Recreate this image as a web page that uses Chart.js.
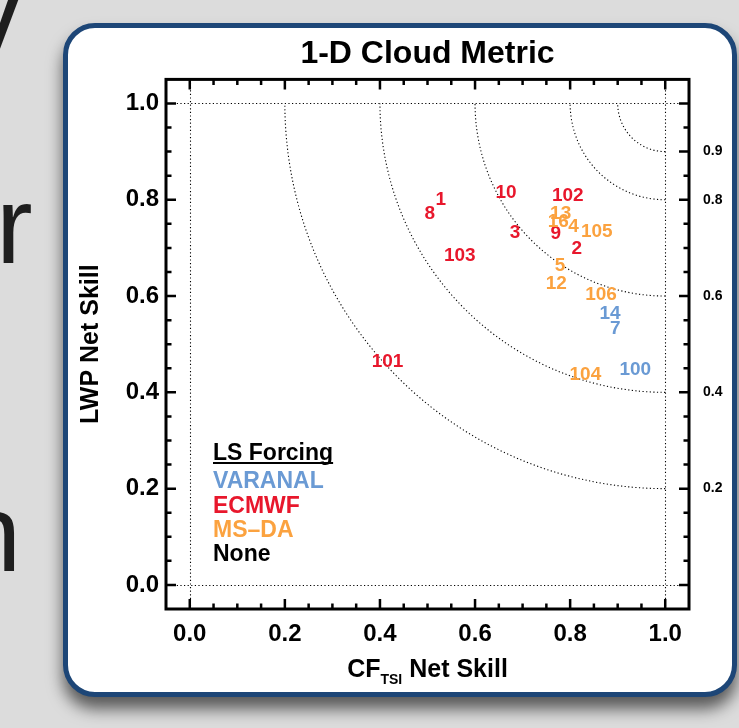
<!DOCTYPE html>
<html>
<head>
<meta charset="utf-8">
<script src="https://cdn.jsdelivr.net/npm/chart.js@4.4.1/dist/chart.umd.min.js"></script>
<style>
  html, body { margin: 0; padding: 0; }
  body {
    width: 739px; height: 728px; overflow: hidden; position: relative;
    background: #dcdcdc; font-family: "Liberation Sans", Arial, sans-serif;
  }
  .slide { position: absolute; font-size: 110px; line-height: 1; color: #1e1e1e; }
  #frame {
    position: absolute; left: 63px; top: 23px; width: 674px; height: 674px;
    box-sizing: border-box; border: 5px solid #1d4677; border-radius: 32px;
    background: #fff; box-shadow: 0 12px 16px rgba(0, 0, 0, 0.6);
  }
  #chart { position: absolute; left: 0; top: 0; }
</style>
</head>
<body>
<div class="slide" style="left:-36px; top:-36px;">v</div>
<div class="slide" style="left:-4px; top:170px;">r</div>
<div class="slide" style="left:-40px; top:478px;">n</div>
<div id="frame"></div>
<canvas id="chart" width="739" height="728"></canvas>
<script>
const FONT = "'Liberation Sans', Arial, sans-serif";

// model runs, grouped by large-scale forcing
const varanalLabels = ["14", "7", "100"];
const varanalX = [0.884, 0.895, 0.937];
const varanalY = [0.563, 0.532, 0.446];

const ecmwfLabels = ["1", "8", "10", "102", "3", "9", "2", "103", "101"];
const ecmwfX = [0.528, 0.505, 0.665, 0.795, 0.684, 0.770, 0.814, 0.568, 0.416];
const ecmwfY = [0.801, 0.770, 0.815, 0.808, 0.731, 0.729, 0.698, 0.684, 0.463];

const msdaLabels = ["13", "16", "4", "105", "5", "12", "106", "104"];
const msdaX = [0.780, 0.775, 0.807, 0.856, 0.779, 0.771, 0.865, 0.832];
const msdaY = [0.770, 0.755, 0.743, 0.734, 0.663, 0.625, 0.603, 0.437];

// net skill contours around the perfect score (1,1)
const contourRadii = [0.1, 0.2, 0.4, 0.6, 0.8];
const refLines = [0, 1];

const xTickValues = [0, 0.2, 0.4, 0.6, 0.8, 1.0];
const yTickValues = [0, 0.2, 0.4, 0.6, 0.8, 1.0];
const rightTickValues = [0.9, 0.8, 0.6, 0.4, 0.2];
const rightMajor = [0, 0.2, 0.4, 0.6, 0.8, 0.9, 1.0];
const minorStep = 0.05;

const legendTitle = "LS Forcing";
const legendItems = ["VARANAL", "ECMWF", "MS\u2013DA", "None"];
const legendColors = ["#6a9ad4", "#e8172c", "#fba23f", "#000000"];

const toPoints = (xs, ys, labels) => xs.map((x, i) => ({ x: x, y: ys[i], label: labels[i] }));

const isIn = (list, v) => list.some((t) => Math.abs(t - v) < 1e-6);

const cloudPlugin = {
  id: "cloudPlugin",
  beforeDatasetsDraw(chart) {
    const { ctx, chartArea: a, scales: { x, y } } = chart;
    ctx.save();
    ctx.strokeStyle = "#000";
    ctx.lineWidth = 1.1;
    ctx.setLineDash([1.2, 2.4]);
    refLines.forEach((v) => {
      const px = Math.round(x.getPixelForValue(v)) + 0.5;
      ctx.beginPath(); ctx.moveTo(px, a.top); ctx.lineTo(px, a.bottom); ctx.stroke();
      const py = Math.round(y.getPixelForValue(v)) + 0.5;
      ctx.beginPath(); ctx.moveTo(a.left, py); ctx.lineTo(a.right, py); ctx.stroke();
    });
    // contour arcs
    const cx = x.getPixelForValue(1), cy = y.getPixelForValue(1);
    const sx = x.getPixelForValue(1) - x.getPixelForValue(0);
    const sy = y.getPixelForValue(0) - y.getPixelForValue(1);
    contourRadii.forEach((r) => {
      ctx.beginPath();
      ctx.ellipse(cx, cy, r * sx, r * sy, 0, Math.PI / 2, Math.PI);
      ctx.stroke();
    });
    ctx.restore();
  },
  afterDatasetsDraw(chart) {
    const { ctx, chartArea: a } = chart;
    ctx.save();
    // run numbers as markers
    ctx.font = "bold 19px " + FONT;
    ctx.textAlign = "center";
    ctx.textBaseline = "middle";
    chart.data.datasets.forEach((ds, i) => {
      const meta = chart.getDatasetMeta(i);
      ctx.fillStyle = ds.labelColor;
      meta.data.forEach((pt, j) => ctx.fillText(ds.data[j].label, pt.x, pt.y));
    });
    // legend
    const lx = a.left + 47;
    const by = a.bottom - 149;
    ctx.textAlign = "left";
    ctx.textBaseline = "alphabetic";
    ctx.font = "bold 23px " + FONT;
    ctx.fillStyle = "#000";
    ctx.fillText(legendTitle, lx, by);
    ctx.fillRect(lx, by + 2, ctx.measureText(legendTitle).width, 2);
    const offs = [28, 53, 77, 101];
    legendItems.forEach((t, i) => {
      ctx.fillStyle = legendColors[i];
      ctx.fillText(t, lx, by + offs[i]);
    });
    ctx.restore();
  },
  afterDraw(chart) {
    const { ctx, chartArea: a, scales: { x, y } } = chart;
    ctx.save();
    ctx.strokeStyle = "#000";
    ctx.lineWidth = 2.5;
    for (let k = 0; k * minorStep <= 1.0001; k++) {
      const v = k * minorStep;
      const major = Math.abs(v * 5 - Math.round(v * 5)) < 1e-6;
      const len = major ? 10 : 5.5;
      const px = x.getPixelForValue(v);
      const py = y.getPixelForValue(v);
      ctx.beginPath();
      ctx.moveTo(px, a.bottom); ctx.lineTo(px, a.bottom - len);
      ctx.moveTo(px, a.top); ctx.lineTo(px, a.top + len);
      ctx.moveTo(a.left, py); ctx.lineTo(a.left + len, py);
      const rlen = isIn(rightMajor, v) ? 10 : 5.5;
      ctx.moveTo(a.right, py); ctx.lineTo(a.right - rlen, py);
      ctx.stroke();
    }
    ctx.lineWidth = 3;
    ctx.strokeRect(a.left, a.top, a.right - a.left, a.bottom - a.top);

    // x axis title with subscript
    const cxm = (a.left + a.right) / 2;
    const base = a.bottom + 68;
    ctx.fillStyle = "#000";
    ctx.textBaseline = "alphabetic";
    ctx.textAlign = "left";
    ctx.font = "bold 25px " + FONT;
    const w1 = ctx.measureText("CF").width;
    const w3 = ctx.measureText(" Net Skill").width;
    ctx.font = "bold 14px " + FONT;
    const w2 = ctx.measureText("TSI").width;
    const start = cxm - (w1 + w2 + w3) / 2;
    ctx.fillText("TSI", start + w1, base + 7);
    ctx.font = "bold 25px " + FONT;
    ctx.fillText("CF", start, base);
    ctx.fillText(" Net Skill", start + w1 + w2, base);
    ctx.restore();
  },
};

const tickFont = { family: FONT, size: 24, weight: "bold" };

new Chart(document.getElementById("chart"), {
  type: "scatter",
  data: {
    datasets: [
      { label: "VARANAL", data: toPoints(varanalX, varanalY, varanalLabels), labelColor: legendColors[0], pointRadius: 0 },
      { label: "ECMWF", data: toPoints(ecmwfX, ecmwfY, ecmwfLabels), labelColor: legendColors[1], pointRadius: 0 },
      { label: "MS-DA", data: toPoints(msdaX, msdaY, msdaLabels), labelColor: legendColors[2], pointRadius: 0 },
    ],
  },
  options: {
    responsive: false,
    animation: false,
    events: [],
    layout: { padding: { left: 60, top: 35, right: 0, bottom: 0 } },
    plugins: {
      legend: { display: false },
      tooltip: { enabled: false },
      title: {
        display: true,
        text: "1-D Cloud Metric",
        fullSize: false,
        color: "#000",
        font: { family: FONT, size: 32, weight: "bold" },
        padding: { top: 0, bottom: 6 },
      },
    },
    scales: {
      x: {
        type: "linear",
        position: "bottom",
        min: -0.05,
        max: 1.05,
        afterBuildTicks: (s) => { s.ticks = xTickValues.map((v) => ({ value: v })); },
        afterFit: (s) => { s.height = 119; },
        grid: { display: false, drawTicks: false },
        border: { display: false },
        ticks: { padding: 11, color: "#000", font: tickFont, maxRotation: 0, autoSkip: false, callback: (v) => v.toFixed(1) },
      },
      y: {
        type: "linear",
        position: "left",
        min: -0.05,
        max: 1.05,
        afterBuildTicks: (s) => { s.ticks = yTickValues.map((v) => ({ value: v })); },
        afterFit: (s) => { s.width = 106; },
        grid: { display: false, drawTicks: false },
        border: { display: false },
        title: { display: true, text: "LWP Net Skill", color: "#000", padding: { top: 16, bottom: 0 }, font: { family: FONT, size: 25, weight: "bold" } },
        ticks: { padding: 7, color: "#000", font: tickFont, autoSkip: false, callback: (v) => v.toFixed(1) },
      },
      y2: {
        type: "linear",
        position: "right",
        min: -0.05,
        max: 1.05,
        afterBuildTicks: (s) => { s.ticks = rightTickValues.map((v) => ({ value: v })); },
        afterFit: (s) => { s.width = 50; },
        grid: { display: false, drawTicks: false },
        border: { display: false },
        ticks: { padding: 14, color: "#000", font: { family: FONT, size: 14, weight: "bold" }, autoSkip: false, callback: (v) => v.toFixed(1) },
      },
    },
  },
  plugins: [cloudPlugin],
});
</script>
</body>
</html>
